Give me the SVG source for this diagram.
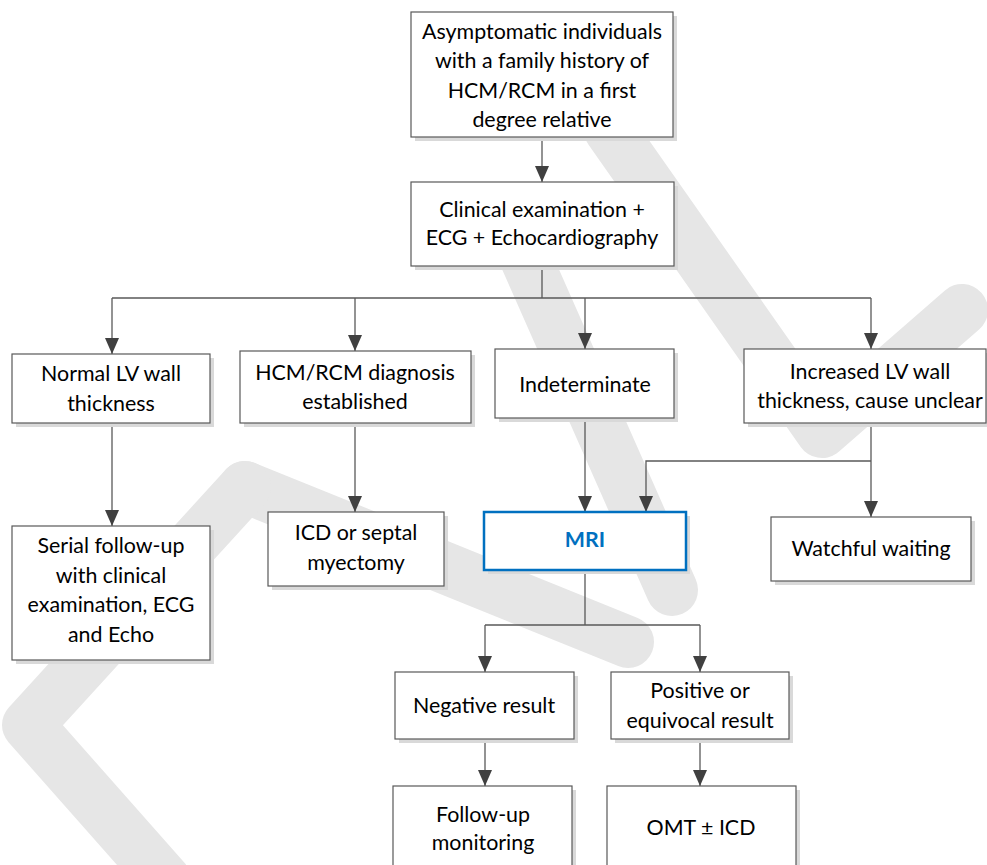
<svg xmlns="http://www.w3.org/2000/svg" width="987" height="865" viewBox="0 0 987 865">
<defs>
<marker id="arr" viewBox="0 0 16 14" refX="16" refY="7" markerWidth="16" markerHeight="14" markerUnits="userSpaceOnUse" orient="auto">
<path d="M0,0 L16,7 L0,14 Z" fill="#404040"/>
</marker>
<style>
.box{fill:#ffffff;stroke:#595959;stroke-width:1.2}
.sh{fill:#d9d9d9}
.t{font-family:Lato,"Liberation Sans",sans-serif;font-size:21.4px;fill:#000;text-anchor:middle}
.c{fill:none;stroke:#595959;stroke-width:1.3}
.w{fill:none;stroke:#e6e6e6;stroke-width:52;stroke-linecap:round;stroke-linejoin:round}
</style>
</defs>
<rect width="987" height="865" fill="#ffffff"/>
<g id="watermark">
<path class="w" d="M610,130 L822,432 L962,310"/>
<path class="w" d="M522,250 L672,590"/>
<path class="w" d="M245,487 L628,642"/>
<path class="w" d="M245,487 L28,725 L165,880"/>
</g>
<g id="connectors">
<path class="c" d="M542,137 V182" marker-end="url(#arr)"/>
<path class="c" d="M542,266 V298 M112,298 H871"/>
<path class="c" d="M112,298 V354" marker-end="url(#arr)"/>
<path class="c" d="M355,298 V351" marker-end="url(#arr)"/>
<path class="c" d="M585,298 V349" marker-end="url(#arr)"/>
<path class="c" d="M871,298 V349" marker-end="url(#arr)"/>
<path class="c" d="M112,423 V526" marker-end="url(#arr)"/>
<path class="c" d="M355,423 V512" marker-end="url(#arr)"/>
<path class="c" d="M585,418 V512" marker-end="url(#arr)"/>
<path class="c" d="M871,423 V517" marker-end="url(#arr)"/>
<path class="c" d="M871,461 H646 V512" marker-end="url(#arr)"/>
<path class="c" d="M585,570 V625 M485,625 H700"/>
<path class="c" d="M485,625 V672" marker-end="url(#arr)"/>
<path class="c" d="M700,625 V672" marker-end="url(#arr)"/>
<path class="c" d="M485,739 V786" marker-end="url(#arr)"/>
<path class="c" d="M700,739 V786" marker-end="url(#arr)"/>
</g>
<g id="n1">
<rect class="sh" x="415" y="16" width="262" height="125"/>
<rect class="box" x="411" y="12" width="262" height="125"/>
<text class="t" x="542" y="39">Asymptomatic individuals</text>
<text class="t" x="542" y="68">with a family history of</text>
<text class="t" x="542" y="98">HCM/RCM in a first</text>
<text class="t" x="542" y="127">degree relative</text>
</g>
<g id="n2">
<rect class="sh" x="415" y="186" width="263" height="84"/>
<rect class="box" x="411" y="182" width="263" height="84"/>
<text class="t" x="542" y="217">Clinical examination +</text>
<text class="t" x="542" y="245">ECG + Echocardiography</text>
</g>
<g id="n3">
<rect class="sh" x="16" y="358" width="198" height="69"/>
<rect class="box" x="12" y="354" width="198" height="69"/>
<text class="t" x="111" y="381">Normal LV wall</text>
<text class="t" x="111" y="411">thickness</text>
</g>
<g id="n4">
<rect class="sh" x="244" y="355" width="231" height="72"/>
<rect class="box" x="240" y="351" width="231" height="72"/>
<text class="t" x="355" y="380">HCM/RCM diagnosis</text>
<text class="t" x="355" y="409">established</text>
</g>
<g id="n5">
<rect class="sh" x="499" y="353" width="179" height="69"/>
<rect class="box" x="495" y="349" width="179" height="69"/>
<text class="t" x="585" y="392">Indeterminate</text>
</g>
<g id="n6">
<rect class="sh" x="748" y="353" width="242" height="74"/>
<rect class="box" x="744" y="349" width="242" height="74"/>
<text class="t" x="870" y="379">Increased LV wall</text>
<text class="t" x="870" y="408">thickness, cause unclear</text>
</g>
<g id="n7">
<rect class="sh" x="16" y="530" width="198" height="134"/>
<rect class="box" x="12" y="526" width="198" height="134"/>
<text class="t" x="111" y="553">Serial follow-up</text>
<text class="t" x="111" y="583">with clinical</text>
<text class="t" x="111" y="612">examination, ECG</text>
<text class="t" x="111" y="642">and Echo</text>
</g>
<g id="n8">
<rect class="sh" x="272" y="516" width="176" height="74"/>
<rect class="box" x="268" y="512" width="176" height="74"/>
<text class="t" x="356" y="540">ICD or septal</text>
<text class="t" x="356" y="570">myectomy</text>
</g>
<g id="n9">
<rect class="sh" x="488" y="516" width="202" height="58"/>
<rect x="484" y="512" width="202" height="58" fill="#ffffff" stroke="#0070C0" stroke-width="2.5"/>
<text class="t" x="585" y="547" style="fill:#0070C0;font-weight:bold">MRI</text>
</g>
<g id="n10">
<rect class="sh" x="775" y="521" width="200" height="64"/>
<rect class="box" x="771" y="517" width="200" height="64"/>
<text class="t" x="871" y="556">Watchful waiting</text>
</g>
<g id="n11">
<rect class="sh" x="399" y="676" width="179" height="67"/>
<rect class="box" x="395" y="672" width="179" height="67"/>
<text class="t" x="484" y="713">Negative result</text>
</g>
<g id="n12">
<rect class="sh" x="615" y="676" width="178" height="67"/>
<rect class="box" x="611" y="672" width="178" height="67"/>
<text class="t" x="700" y="698">Positive or</text>
<text class="t" x="700" y="728">equivocal result</text>
</g>
<g id="n13">
<rect class="sh" x="397" y="790" width="179" height="100"/>
<rect class="box" x="393" y="786" width="179" height="100"/>
<text class="t" x="483" y="822">Follow-up</text>
<text class="t" x="483" y="850">monitoring</text>
</g>
<g id="n14">
<rect class="sh" x="611" y="790" width="189" height="100"/>
<rect class="box" x="607" y="786" width="189" height="100"/>
<text class="t" x="701" y="835">OMT ± ICD</text>
</g>
</svg>
